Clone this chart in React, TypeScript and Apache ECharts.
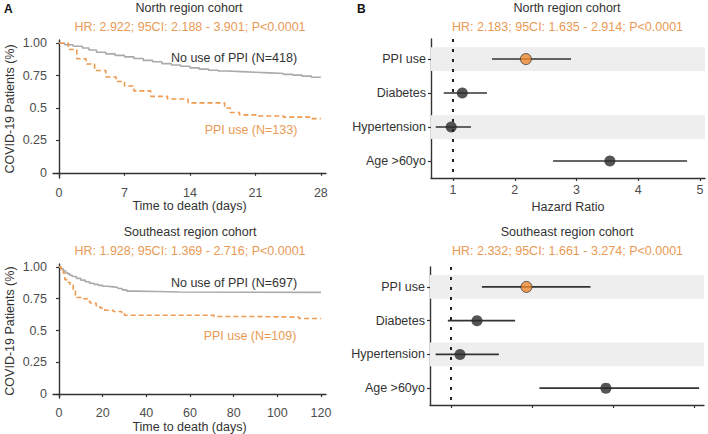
import React, { useEffect, useRef } from "react";
import * as echarts from "echarts";

// ---- Data ----
const northNoPPI: [number, number][] = [
  [0, 1], [0.6, 0.988], [1.5, 0.977], [2.5, 0.963], [3.2, 0.948], [4, 0.93], [5, 0.918], [6, 0.906],
  [7, 0.895], [8, 0.882], [9, 0.868], [10, 0.857], [11, 0.843], [12, 0.832], [13, 0.822], [14, 0.81],
  [15, 0.8], [16, 0.792], [17, 0.786], [18, 0.781], [19.5, 0.776], [21, 0.771], [22.5, 0.766],
  [24, 0.76], [25, 0.754], [26, 0.746], [27, 0.738], [28, 0.733],
];
const northPPI: [number, number][] = [
  [0, 1], [1, 0.952], [1.9, 0.88], [2.9, 0.84], [3.8, 0.79], [5, 0.74], [6.1, 0.705], [7, 0.67],
  [8, 0.632], [9.8, 0.59], [11.6, 0.57], [13.8, 0.54], [17.7, 0.5], [18.3, 0.465], [19.3, 0.447],
  [21.2, 0.438], [24, 0.43], [27, 0.418], [28, 0.418],
];
const seNoPPI: [number, number][] = [
  [0, 1], [1, 0.985], [2, 0.97], [3, 0.956], [4, 0.945], [5, 0.935], [6, 0.925], [8, 0.91],
  [10, 0.896], [12, 0.883], [14, 0.872], [16, 0.863], [18, 0.855], [20, 0.848], [22, 0.843],
  [25, 0.838], [27, 0.83], [29, 0.82], [31, 0.81], [35, 0.807], [45, 0.803], [55, 0.8], [120, 0.8],
];
const sePPI: [number, number][] = [
  [0, 1], [1, 0.98], [2, 0.95], [2.7, 0.9], [4, 0.88], [5, 0.86], [6.5, 0.81], [7.5, 0.78],
  [8.1, 0.76], [11, 0.75], [13, 0.73], [14.2, 0.716], [17, 0.695], [18.8, 0.677], [21, 0.66],
  [24.9, 0.65], [28.7, 0.633], [30, 0.62], [71, 0.61], [90, 0.605], [110, 0.595], [120, 0.595],
];

const kmYTicks = [0, 0.25, 0.5, 0.75, 1];
const kmYTickLabels = ["0", "0.25", "0.5", "0.75", "1.00"];
const northXTicks = [0, 7, 14, 21, 28];
const seXTicks = [0, 20, 40, 60, 80, 100, 120];

const forestLabels = ["PPI use", "Diabetes", "Hypertension", "Age >60yo"];
const northHR = [2.18, 1.15, 0.97, 3.54];
const northLow = [1.63, 0.85, 0.72, 2.62];
const northHigh = [2.91, 1.55, 1.29, 4.79];
const seHR = [1.93, 1.32, 1.11, 2.91];
const seLow = [1.38, 0.96, 0.81, 2.09];
const seHigh = [2.72, 1.79, 1.59, 4.06];
const northForestTicks = [1, 2, 3, 4, 5];
const seForestTicks = [1, 2, 3, 4];

const FONT = "'Liberation Sans', Arial, sans-serif";
const DARK = "#333333";
const TICKC = "#4d4d4d";
const ORANGE_T = "#E99A55";
const ORANGE = "#F08A2E";
const GREY = "#AAAAAA";
const FS = 12.5;

export default function App() {
  const ref = useRef<HTMLDivElement>(null);
  useEffect(() => {
    if (!ref.current) return;
    const chart = echarts.init(ref.current, undefined, { renderer: "svg" });

    const axisLine = { show: true, lineStyle: { color: DARK, width: 1.4 } };
    const axisTickBase = { show: true, length: 3, lineStyle: { color: DARK, width: 1.2 } };
    const labelBase = { color: TICKC, fontSize: FS, fontFamily: FONT };

    const kmX = (gi: number, min: number, max: number, ticks: number[], gap: number) => ({
      type: "value", gridIndex: gi, min, max,
      axisLine, splitLine: { show: false },
      axisTick: { ...axisTickBase, customValues: ticks },
      axisLabel: { ...labelBase, customValues: ticks, margin: 8 },
      name: "Time to death (days)", nameLocation: "middle", nameGap: gap,
      nameTextStyle: { color: DARK, fontSize: FS, fontFamily: FONT },
    });
    const kmY = (gi: number, min: number, max: number) => ({
      type: "value", gridIndex: gi, min, max,
      axisLine, splitLine: { show: false },
      axisTick: { ...axisTickBase, customValues: kmYTicks },
      axisLabel: {
        ...labelBase, customValues: kmYTicks, margin: 6,
        formatter: (v: number) => kmYTickLabels[kmYTicks.indexOf(v)] ?? "",
      },
      name: "COVID-19 Patients (%)", nameLocation: "middle", nameGap: 37,
      nameTextStyle: { color: DARK, fontSize: FS, fontFamily: FONT },
    });
    const fX = (gi: number, min: number, max: number, ticks: number[], showLabels: boolean) => ({
      type: "value", gridIndex: gi, min, max,
      axisLine, splitLine: { show: false },
      axisTick: { ...axisTickBase, customValues: ticks },
      axisLabel: { ...labelBase, show: showLabels, customValues: ticks, margin: 5 },
      name: showLabels ? "Hazard Ratio" : "", nameLocation: "middle", nameGap: 22,
      nameTextStyle: { color: DARK, fontSize: FS, fontFamily: FONT },
    });
    const fY = (gi: number) => ({
      type: "value", gridIndex: gi, min: 0.41, max: 4.5, inverse: true,
      axisLine, splitLine: { show: false },
      axisTick: { ...axisTickBase, customValues: [1, 2, 3, 4] },
      axisLabel: {
        ...labelBase, color: DARK, customValues: [1, 2, 3, 4], margin: 5,
        formatter: (v: number) => forestLabels[v - 1] ?? "",
      },
    });

    const kmLine = (data: [number, number][], xi: number, color: string, dashed: boolean) => ({
      type: "line", xAxisIndex: xi, yAxisIndex: xi, data, step: "end", symbol: "none",
      lineStyle: { color, width: 1.6, type: dashed ? [5, 3] : "solid" },
      silent: true,
    });

    const forestSeries = (gi: number, hr: number[], lo: number[], hi: number[]) => {
      const ciData = hr.map((_, i) => [i + 1, lo[i], hi[i]]);
      const ptData = hr.map((v, i) => ({
        value: [v, i + 1],
        itemStyle: i === 0
          ? { color: ORANGE, borderColor: "#3a3a3a", borderWidth: 1 }
          : { color: "#2b2b2b" },
      }));
      return [
        {
          type: "custom", xAxisIndex: gi, yAxisIndex: gi, data: ciData,
          encode: { x: [1, 2], y: 0 },
          renderItem: (params: any, api: any) => {
            const a = api.coord([api.value(1), api.value(0)]);
            const b = api.coord([api.value(2), api.value(0)]);
            return {
              type: "line",
              shape: { x1: a[0], y1: a[1], x2: b[0], y2: b[1] },
              style: { stroke: "#333", lineWidth: 1.6 },
            };
          },
          markLine: {
            silent: true, symbol: "none", label: { show: false },
            lineStyle: { color: "#222", width: 2, type: [3, 7] },
            data: [{ xAxis: 1 }],
          },
          markArea: {
            silent: true, itemStyle: { color: "#EEEEEE" },
            data: [
              [{ yAxis: 0.65 }, { yAxis: 1.35 }],
              [{ yAxis: 2.65 }, { yAxis: 3.35 }],
            ],
          },
          z: 3,
        },
        {
          type: "scatter", xAxisIndex: gi, yAxisIndex: gi, data: ptData,
          symbolSize: 11, z: 4, silent: true,
        },
      ];
    };

    const txt = (text: string, x: number, y: number, fill: string, extra: any = {}) => ({
      type: "text", x, y,
      style: {
        text, fill, font: `${FS}px ${FONT}`, textAlign: "center", textVerticalAlign: "middle", ...extra,
      },
    });

    chart.setOption({
      animation: false,
      backgroundColor: "#ffffff",
      grid: [
        { left: 53, top: 40, right: 382, bottom: 256 },
        { left: 53, top: 264, right: 382, bottom: 35 },
        { left: 431, top: 39, right: 3, bottom: 256 },
        { left: 430, top: 267, right: 4, bottom: 29 },
      ],
      xAxis: [
        kmX(0, -0.65, 28.55, northXTicks, 21),
        kmX(1, -2.75, 122.3, seXTicks, 18),
        fX(2, 0.643, 5.08, northForestTicks, true),
        fX(3, 0.74, 4.12, seForestTicks, false),
      ],
      yAxis: [kmY(0, -0.04, 1.025), kmY(1, -0.031, 1.023), fY(2), fY(3)],
      series: [
        kmLine(northNoPPI, 0, GREY, false),
        kmLine(northPPI, 0, "#EE9A50", true),
        kmLine(seNoPPI, 1, GREY, false),
        kmLine(sePPI, 1, "#EE9A50", true),
        ...forestSeries(2, northHR, northLow, northHigh),
        ...forestSeries(3, seHR, seLow, seHigh),
      ],
      graphic: [
        txt("A", 4, 9, "#111", { textAlign: "left", font: `bold 12px ${FONT}` }),
        txt("B", 357, 9, "#111", { textAlign: "left", font: `bold 12px ${FONT}` }),
        txt("North region cohort", 189, 8, DARK),
        txt("HR: 2.922; 95CI: 2.188 - 3.901; P<0.0001", 190, 26.5, ORANGE_T),
        txt("No use of PPI (N=418)", 234, 58, DARK),
        txt("PPI use (N=133)", 251, 130, ORANGE_T),
        txt("Southeast region cohort", 190, 232, DARK),
        txt("HR: 1.928; 95CI: 1.369 - 2.716; P<0.0001", 190, 250.5, ORANGE_T),
        txt("No use of PPI (N=697)", 234, 282.5, DARK),
        txt("PPI use (N=109)", 250, 335.5, ORANGE_T),
        txt("North region cohort", 567, 8, DARK),
        txt("HR: 2.183; 95CI: 1.635 - 2.914; P<0.0001", 567.5, 26.5, ORANGE_T),
        txt("Southeast region cohort", 567, 231.5, DARK),
        txt("HR: 2.332; 95CI: 1.661 - 3.274; P<0.0001", 567.5, 250.5, ORANGE_T),
      ],
    });
    return () => chart.dispose();
  }, []);
  return (
    <div
      ref={ref}
      style={{ position: "fixed", left: 0, top: 0, width: 708, height: 434, background: "#fff" }}
    />
  );
}
